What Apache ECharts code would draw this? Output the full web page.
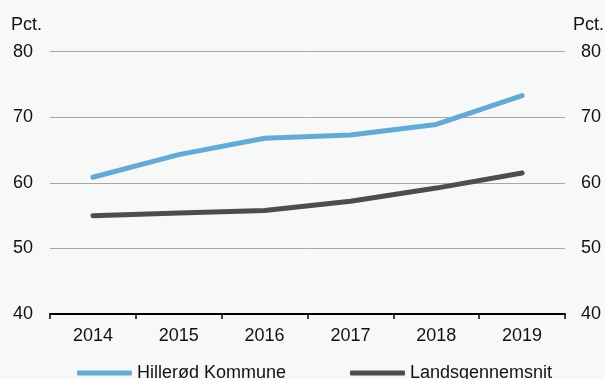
<!DOCTYPE html>
<html>
<head>
<meta charset="utf-8">
<script src="https://cdn.jsdelivr.net/npm/echarts@6/dist/echarts.min.js"></script>
<style>
html,body{margin:0;padding:0;background:#f7f8f8;}
#c{width:605px;height:379px;}
</style>
</head>
<body>
<div id="c"></div>
<script>
const categories = ['2014','2015','2016','2017','2018','2019'];
const hilleroed = [60.85, 64.3, 66.8, 67.3, 68.9, 73.3];
const lands = [55.0, 55.4, 55.8, 57.2, 59.2, 61.5];
const seriesNames = ['Hillerød Kommune', 'Landsgennemsnit'];
const yUnit = 'Pct.';

const FONT = '"Liberation Sans", Arial, sans-serif';
const chart = echarts.init(document.getElementById('c'), null, {renderer:'canvas'});
const axisLabelStyle = {color:'#111', fontSize:18, fontFamily:FONT};
chart.setOption({
  backgroundColor:'#f7f8f8',
  animation:false,
  grid:{left:50, right:40, top:51.7, bottom:65},
  legend:[
    {data:[seriesNames[0]], left:72, top:359, itemWidth:55, itemHeight:5, icon:'roundRect', itemGap:0,
     textStyle:{color:'#111', fontSize:18, fontFamily:FONT}},
    {data:[seriesNames[1]], left:345, top:359, itemWidth:55, itemHeight:5, icon:'roundRect', itemGap:0,
     textStyle:{color:'#111', fontSize:18, fontFamily:FONT}}
  ],
  graphic:[
    {type:'text', left:11, top:16, style:{text:yUnit, fill:'#111', font:'18px '+FONT}},
    {type:'text', left:573, top:16, style:{text:yUnit, fill:'#111', font:'18px '+FONT}}
  ],
  xAxis:{
    type:'category', data:categories, boundaryGap:true,
    axisLine:{show:true, lineStyle:{color:'#000', width:2}},
    axisTick:{show:true, length:5, lineStyle:{color:'#000', width:1.5}},
    axisLabel:Object.assign({margin:13}, axisLabelStyle)
  },
  yAxis:[
    {type:'value', min:40, max:80, interval:10, position:'left',
     axisLine:{show:false}, axisTick:{show:false},
     splitLine:{show:true, lineStyle:{color:'#a8a8a8', width:1}},
     axisLabel:Object.assign({margin:17}, axisLabelStyle)},
    {type:'value', min:40, max:80, interval:10, position:'right',
     axisLine:{show:false}, axisTick:{show:false},
     splitLine:{show:false},
     axisLabel:Object.assign({margin:16}, axisLabelStyle)}
  ],
  series:[
    {name:seriesNames[0], type:'line', data:hilleroed, symbol:'none', smooth:false,
     lineStyle:{color:'#63aad7', width:5, cap:'round', join:'round'}, itemStyle:{color:'#63aad7'}},
    {name:seriesNames[1], type:'line', data:lands, symbol:'none', smooth:false,
     lineStyle:{color:'#4c4d52', width:5, cap:'round', join:'round'}, itemStyle:{color:'#4c4d52'}}
  ]
});
</script>
</body>
</html>
